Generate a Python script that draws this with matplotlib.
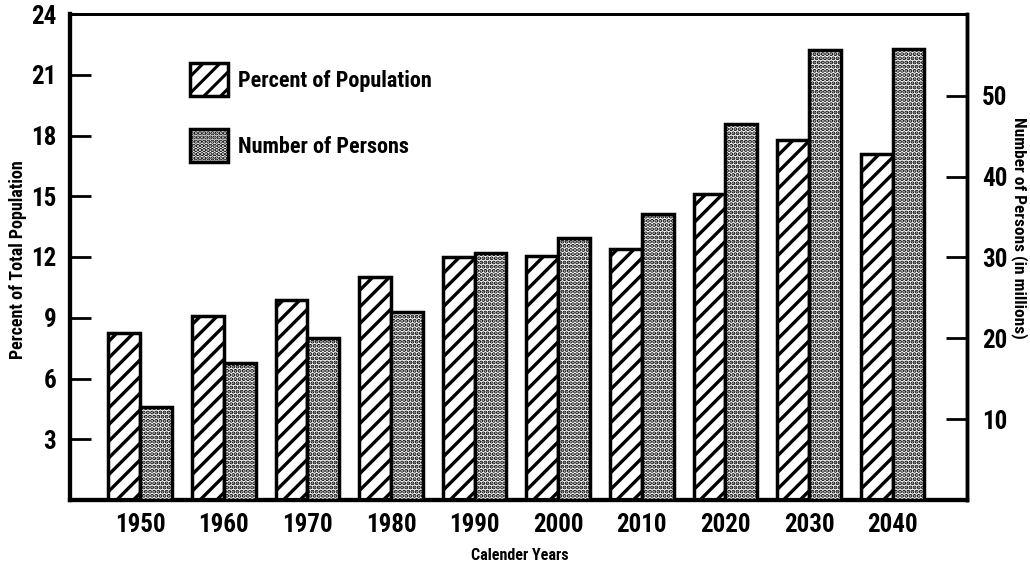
import matplotlib
matplotlib.use('Agg')
import matplotlib.pyplot as plt
import numpy as np
from matplotlib import font_manager

# ---- data ----
years = ['1950', '1960', '1970', '1980', '1990', '2000', '2010', '2020', '2030', '2040']
percent_of_population = [8.25, 9.1, 9.9, 11.0, 12.0, 12.05, 12.4, 15.1, 17.8, 17.1]
number_of_persons = [11.5, 16.9, 20.0, 23.2, 30.6, 32.4, 35.4, 46.5, 55.6, 55.8]
left_ticks = [3, 6, 9, 12, 15, 18, 21, 24]
right_ticks = [10, 20, 30, 40, 50]

# ---- fonts ----
names = {f.name for f in font_manager.fontManager.ttflist}
chosen = None
for cand in ['Roboto Condensed', 'Fira Sans Condensed', 'Archivo Narrow',
             'Liberation Sans Narrow', 'IBM Plex Sans Condensed']:
    if cand in names:
        chosen = cand
        break
FAM = [chosen, 'DejaVu Sans'] if chosen else ['DejaVu Sans']
plt.rcParams['font.family'] = FAM
plt.rcParams['font.weight'] = 'heavy'
plt.rcParams['axes.labelweight'] = 'heavy'
plt.rcParams['hatch.linewidth'] = 2.2

fig = plt.figure(figsize=(10.3, 5.65), dpi=100)
ax = fig.add_axes([70 / 1030, 65 / 565, 897 / 1030, 486 / 565])
ax2 = ax.twinx()

x = np.arange(len(years))
w = 0.38
with plt.rc_context({'hatch.linewidth': 2.4}):
    b1 = ax.bar(x - w / 2, percent_of_population, width=w, color='white',
                edgecolor='black', linewidth=2.5, hatch='//',
                label='Percent of Population', zorder=3)
with plt.rc_context({'hatch.linewidth': 2.0}):
    b2 = ax2.bar(x + w / 2, number_of_persons, width=w, color='white',
                 edgecolor='black', linewidth=2.5, hatch='....',
                 label='Number of Persons', zorder=3)
for p in b1:
    if hasattr(p, 'set_hatch_linewidth'):
        p.set_hatch_linewidth(2.4)
for p in b2:
    if hasattr(p, 'set_hatch_linewidth'):
        p.set_hatch_linewidth(2.0)

ax.set_xlim(-0.84, 9.89)
ax.set_ylim(0, 24)
ax2.set_ylim(0, 60.1)

ax.set_yticks(left_ticks)
ax.set_yticklabels([str(t) for t in left_ticks])
ax2.set_yticks(right_ticks)
ax2.set_yticklabels([str(t) for t in right_ticks])
ax.set_xticks(x)
ax.set_xticklabels(years)

ax.tick_params(axis='y', direction='in', length=15, width=2, pad=10,
               labelsize=18)
ax2.tick_params(axis='y', direction='in', length=15, width=2, pad=11,
                labelsize=18)
ax.tick_params(axis='x', length=0, pad=9, labelsize=18)

for a in (ax, ax2):
    for side, lw in (('left', 3), ('bottom', 3), ('top', 2), ('right', 2.5)):
        a.spines[side].set_linewidth(lw)

ax.set_xlabel('Calender Years', fontsize=11.5)
ax.xaxis.set_label_coords(0.502, -0.098)
ax.set_ylabel('Percent of Total Population', fontsize=13, va='center')
ax.yaxis.set_label_coords(-0.058, 0.494)
ax2.set_ylabel('Number of Persons (in millions)', fontsize=12.5,
               rotation=270, va='center')
ax2.yaxis.set_label_coords(1.058, 0.56)

leg = ax2.legend(handles=[b1, b2], loc='upper left',
                 bbox_to_anchor=((190 - 70) / 897, (500 - 63) / 486),
                 frameon=False, fontsize=16, handlelength=1.7,
                 handleheight=1.9, labelspacing=1.5, handletextpad=0.45,
                 borderpad=0, borderaxespad=0)

fig.savefig('out.png', dpi=100)
